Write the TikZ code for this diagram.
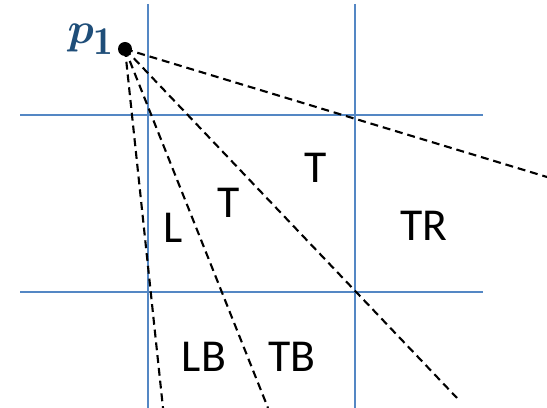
\documentclass[tikz,border=0pt]{standalone}
\usepackage{amsmath}
\usepackage{bm}
\usepackage{fontspec}
\setsansfont{Carlito}
\usetikzlibrary{positioning}
\definecolor{GridBlue}{RGB}{84,135,196}
\definecolor{DarkBlue}{RGB}{31,78,121}

\begin{document}
\begin{tikzpicture}[x=0.02cm, y=-0.02cm,
	grid/.style={GridBlue, line width=1.3pt},
	ray/.style={black, line width=1.2pt, dash pattern=on 4.5pt off 2.8pt},
	region/.style={font=\fontsize{26}{30}\selectfont\sffamily, inner sep=0pt}]
	\useasboundingbox (0,0) rectangle (547,408);
	% grid
	\draw[grid] (148,4) -- (148,408);
	\draw[grid] (355,4) -- (355,408);
	\draw[grid] (20,115) -- (483,115);
	\draw[grid] (20,292) -- (483,292);
	% point and rays
	\node[circle, fill=black, inner sep=0pt, minimum size=0.28cm] (p1) at (125,49) {};
	\node[DarkBlue, inner sep=0pt, font=\fontsize{32}{34}\selectfont] (p1label) at (91,39) {$\bm{p}_{\mathbf{1}}$};
	\coordinate (e1) at (547,177);
	\coordinate (e2) at (457,398);
	\coordinate (e3) at (268,408);
	\coordinate (e4) at (163,408);
	\foreach \e in {e1,e2,e3,e4}
	\draw[ray] (p1.center) -- (\e);
	% region labels
	\node[region] (L) at (173,228) {L};
	\node[region] (T1) at (229,203) {T};
	\node[region] (T2) at (316,168) {T};
	\node[region] (TR) at (424,226) {TR};
	\node[region] (LB) at (204,357) {LB};
	\node[region] (TB) at (292,357) {TB};
\end{tikzpicture}
\end{document}
